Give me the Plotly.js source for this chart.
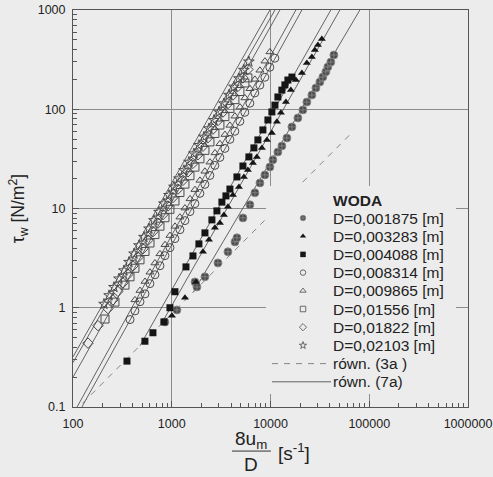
<!DOCTYPE html>
<html>
<head>
<meta charset="utf-8">
<script src="https://cdn.plot.ly/plotly-3.0.1.min.js"></script>
<style>html,body{margin:0;padding:0;background:#ececec;}</style>
</head>
<body>
<div id="chart" style="width:493px;height:477px;"></div>
<script>
// ---- tick labels ----
const xTickVals = [100, 1000, 10000, 100000, 1000000];
const xTickText = ['100', '1000', '10000', '100000', '1000000'];
const yTickVals = [0.1, 1, 10, 100, 1000];
const yTickText = ['0.1', '1', '10', '100', '1000'];

// ---- series names ----
const legendTitle = 'WODA';
const seriesNames = ['D=0,001875 [m]', 'D=0,003283 [m]', 'D=0,004088 [m]', 'D=0,008314 [m]',
  'D=0,009865 [m]', 'D=0,01556 [m]', 'D=0,01822 [m]', 'D=0,02103 [m]'];
const dashName = 'równ. (3a )';
const solidName = 'równ. (7a)';

// ---- measured points (8u/D [1/s], tau_w [N/m2]) ----
const d001875_x = [853, 1129, 1718, 1799, 2168, 2936, 3706, 4365, 4571, 5258, 6185, 6953, 7816, 8775, 9863, 10570, 11880, 13040, 14660, 16480, 18940, 21280, 23350, 26240, 28840, 31620, 33910, 36370, 38100, 40830, 43830];
const d001875_y = [0.72, 0.95, 1.82, 1.62, 2.05, 2.83, 3.66, 4.61, 5.06, 8.04, 10.9, 14.4, 18.1, 21.8, 26.2, 30.9, 37.1, 42.7, 51.4, 66.4, 81.7, 98.4, 118, 139, 164, 188, 211, 238, 267, 299, 352];

const d003283_x = [1005, 1361, 1758, 2070, 2381, 2735, 3076, 3375, 3706, 4161, 4786, 5379, 5902, 6637, 7278, 8185, 9204, 10330, 11610, 12740, 14320, 16070, 18070, 20800, 23350, 26240, 28120, 30200, 33110];
const d003283_y = [0.83, 1.26, 1.82, 3.66, 4.83, 6.38, 7.16, 8.62, 10.4, 13.7, 16.5, 20.8, 24.5, 28.8, 33.1, 40.8, 49.1, 57.7, 75, 92, 118, 156, 197, 232, 292, 336, 395, 444, 511];

const d004088_x = [352, 535, 645, 833, 959, 1077, 1393, 1640, 1884, 2168, 2551, 2866, 3221, 3538, 3882, 4571, 5258, 6043, 6792, 7454, 8375, 9413, 10330, 11090, 11880, 13040, 13990, 15000, 16480];
const d004088_y = [0.29, 0.46, 0.56, 0.72, 1.0, 1.45, 2.58, 3.33, 4.40, 5.68, 7.68, 9.46, 11.6, 13.4, 15.7, 20.8, 26.8, 33.1, 40.8, 49.1, 61.9, 78.0, 94.0, 110, 133, 156, 176, 197, 211];

const d008314_x = [378, 424, 477, 536, 601, 676, 760, 853, 959, 1077, 1211, 1360, 1528, 1716, 1928, 2166, 2432, 2733, 3070, 3449, 3878, 4356, 4898, 5495, 6180, 6934, 7798, 8770, 9840, 11070];
const d008314_y = [0.76, 0.93, 1.15, 1.38, 1.75, 2.15, 2.65, 3.35, 4.03, 4.97, 6.12, 7.55, 9.31, 11.2, 14.2, 17.5, 21.5, 27.2, 32.7, 40.3, 49.7, 60.0, 75.5, 93.1, 115, 146, 175, 210, 265, 327];

const d009865_x = [424, 477, 536, 602, 676, 760, 855, 959, 1079, 1211, 1361, 1531, 1718, 1932, 2168, 2438, 2742, 3076, 3459, 3882, 4365, 4909, 5508, 6194, 6950, 7816, 8790, 9863];
const d009865_y = [1.20, 1.49, 1.84, 2.28, 2.82, 3.49, 4.32, 5.34, 6.61, 8.18, 10.1, 12.5, 15.5, 19.2, 23.7, 29.3, 36.3, 44.9, 55.6, 68.8, 85.1, 105, 130, 161, 200, 247, 305, 378];

const d01556_x = [211, 266, 336, 378, 424, 477, 536, 602, 676, 760, 854, 959, 1078, 1211, 1360, 1529, 1718, 1930, 2168, 2436, 2737, 3074, 3455, 3882, 4362, 4900, 5506, 5905];
const d01556_y = [0.77, 1.14, 1.69, 2.05, 2.50, 3.04, 3.69, 4.49, 5.46, 6.64, 8.07, 9.81, 11.9, 14.5, 17.6, 21.4, 26.1, 31.7, 38.5, 46.9, 57.0, 69.3, 84.3, 102, 125, 151, 184, 207];

const d01822_x = [142, 179, 226, 254, 285, 321, 360, 405, 455, 511, 574, 645, 725, 815, 915, 1028, 1156, 1299, 1459, 1639, 1842, 2070, 2325, 2612, 2935, 3298, 3706, 4164, 4677, 5255, 5906];
const d01822_y = [0.44, 0.66, 0.98, 1.20, 1.46, 1.78, 2.17, 2.64, 3.22, 3.93, 4.79, 5.84, 7.12, 8.68, 10.6, 12.9, 15.7, 19.2, 23.4, 28.5, 34.8, 42.4, 51.7, 63.0, 76.9, 93.7, 114, 139, 170, 207, 252];

const d02103_x = [206, 232, 260, 292, 328, 369, 415, 466, 523, 588, 661, 742, 834, 937, 1053, 1183, 1329, 1494, 1678, 1886, 2118, 2380, 2674, 3005, 3376, 3793, 4262, 4788, 5380, 6045];
const d02103_y = [1.09, 1.33, 1.61, 1.96, 2.37, 2.88, 3.50, 4.24, 5.15, 6.25, 7.59, 9.21, 11.2, 13.6, 16.5, 20.0, 24.2, 29.4, 35.7, 43.4, 52.6, 63.9, 77.5, 94.0, 114, 139, 168, 204, 248, 301];

// ---- eq. (3a) dashed line endpoints ----
const eq3a_x = [125, 67000];
const eq3a_y = [0.109, 58.3];

// ---- eq. (7a) solid lines, one per diameter (start / end) ----
const eq7a_x0 = [100, 100, 100, 110, 123, 477, 780, 1650];
const eq7a_y0 = [0.32, 0.28, 0.20, 0.1, 0.1, 0.415, 0.68, 1.43];
const eq7a_x1 = [9863, 11090, 12450, 18070, 20800, 40830, 50400, 80400];
const eq7a_y1 = [1000, 1000, 1000, 1000, 1000, 1000, 1000, 1000];

// ---------------------------------------------------------------
const FONT = 'Liberation Sans, Arial, sans-serif';
const BG = '#ececec';
const DASH = '6px,6px';

const seriesX = [d001875_x, d003283_x, d004088_x, d008314_x, d009865_x, d01556_x, d01822_x, d02103_x];
const seriesY = [d001875_y, d003283_y, d004088_y, d008314_y, d009865_y, d01556_y, d01822_y, d02103_y];
const styles = [
  {symbol: 'circle-cross', size: 8, color: '#4a4a4a', line: {color: '#8c8c8c', width: 0.8}},
  {symbol: 'triangle-up', size: 7, color: '#151515', line: {color: '#151515', width: 0}},
  {symbol: 'square', size: 7, color: '#151515', line: {color: '#151515', width: 0}},
  {symbol: 'circle-open', size: 8, color: '#4a4a4a', line: {width: 1}},
  {symbol: 'triangle-up-open', size: 7, color: '#4a4a4a', line: {width: 1}},
  {symbol: 'square-open', size: 8, color: '#4a4a4a', line: {width: 1}},
  {symbol: 'diamond-open', size: 8, color: '#4a4a4a', line: {width: 1}},
  {symbol: 'star-open', size: 8, color: '#4a4a4a', line: {width: 1}}
];

const traces = [];

// solid lines (eq. 7a)
const sx = [], sy = [];
for (let i = 0; i < eq7a_x0.length; i++) {
  sx.push(eq7a_x0[i], eq7a_x1[i], null);
  sy.push(eq7a_y0[i], eq7a_y1[i], null);
}
traces.push({type: 'scatter', mode: 'lines', x: sx, y: sy, name: solidName,
  line: {color: '#404040', width: 0.8}, connectgaps: false, hoverinfo: 'skip'});

// dashed line (eq. 3a)
traces.push({type: 'scatter', mode: 'lines', x: eq3a_x, y: eq3a_y, name: dashName,
  line: {color: '#7a7a7a', width: 0.9, dash: DASH}});

// data markers
for (let i = 0; i < seriesX.length; i++) {
  traces.push({type: 'scatter', mode: 'markers', x: seriesX[i], y: seriesY[i], name: seriesNames[i],
    marker: styles[i]});
}

// ---- legend box (drawn in its own overlay subplot, pixel-like units) ----
const LEG = {x0: 266, x1: 456, yTop: 186, yBot: 394, titleY: 200, row0: 218, step: 18.2,
             symX: 303, lineX0: 272, lineX1: 331, textX: 331};
const legendLabels = seriesNames.concat([dashName, solidName]);
traces.push({type: 'scatter', mode: 'lines', xaxis: 'x2', yaxis: 'y2',
  x: [LEG.x0, LEG.x1, LEG.x1, LEG.x0, LEG.x0], y: [LEG.yTop, LEG.yTop, LEG.yBot, LEG.yBot, LEG.yTop],
  fill: 'toself', fillcolor: BG, line: {width: 0}, hoverinfo: 'skip'});
for (let i = 0; i < seriesNames.length; i++) {
  const s = styles[i];
  const ls = s.symbol.indexOf('open') >= 0 ? {color: s.color, width: 0.8} : s.line;
  traces.push({type: 'scatter', mode: 'markers', xaxis: 'x2', yaxis: 'y2',
    x: [LEG.symX], y: [LEG.row0 + i * LEG.step], hoverinfo: 'skip',
    marker: {symbol: s.symbol, size: 5.5, color: s.color, line: ls}});
}
const rDash = LEG.row0 + 8 * LEG.step, rSolid = LEG.row0 + 9 * LEG.step;
traces.push({type: 'scatter', mode: 'lines', xaxis: 'x2', yaxis: 'y2',
  x: [LEG.lineX0, LEG.lineX1], y: [rDash, rDash], line: {color: '#7a7a7a', width: 0.9, dash: DASH}, hoverinfo: 'skip'});
traces.push({type: 'scatter', mode: 'lines', xaxis: 'x2', yaxis: 'y2',
  x: [LEG.lineX0, LEG.lineX1], y: [rSolid, rSolid], line: {color: '#404040', width: 0.8}, hoverinfo: 'skip'});

const annotations = [
  {text: '8u<sub>m</sub>', xref: 'paper', yref: 'paper', x: 0.451, y: -0.083, showarrow: false,
   xanchor: 'center', yanchor: 'middle', font: {family: FONT, size: 19, color: '#222'}},
  {text: 'D', xref: 'paper', yref: 'paper', x: 0.451, y: -0.1436, showarrow: false,
   xanchor: 'center', yanchor: 'middle', font: {family: FONT, size: 19, color: '#222'}},
  {text: '[s<sup>-1</sup>]', xref: 'paper', yref: 'paper', x: 0.514, y: -0.1134, showarrow: false,
   xanchor: 'left', yanchor: 'middle', font: {family: FONT, size: 19, color: '#222'}},
  {text: '<b>' + legendTitle + '</b>', xref: 'x2', yref: 'y2', x: LEG.textX, y: LEG.titleY, showarrow: false,
   xanchor: 'left', yanchor: 'middle', font: {family: FONT, size: 15.5, color: '#222'}}
];
legendLabels.forEach(function (t, i) {
  annotations.push({text: t, xref: 'x2', yref: 'y2', x: LEG.textX, y: LEG.row0 + i * LEG.step,
    showarrow: false, xanchor: 'left', yanchor: 'middle', font: {family: FONT, size: 15.5, color: '#222'}});
});

const minorX = [], minorY = [];
for (let d = 2; d <= 5; d++) for (let k = 2; k <= 9; k++) minorX.push(k * Math.pow(10, d));
for (let d = -1; d <= 2; d++) for (let k = 2; k <= 9; k++) minorY.push(+(k * Math.pow(10, d)).toPrecision(3));

const axisCommon = {
  type: 'log', tickmode: 'array', ticks: 'inside', ticklen: 6, tickcolor: '#555', tickwidth: 1,
  showgrid: true, gridcolor: '#8c8c8c', gridwidth: 1, showline: true, linecolor: '#555', linewidth: 1,
  mirror: true, zeroline: false, tickfont: {family: FONT, size: 12.5, color: '#222'}
};

const PL = 73, PR = 468, PT = 10, PB = 407;
const layout = {
  width: 493, height: 477,
  margin: {l: PL, r: 493 - PR, t: PT, b: 477 - PB, pad: 0},
  paper_bgcolor: BG, plot_bgcolor: BG,
  font: {family: FONT, color: '#222'},
  showlegend: false,
  xaxis: Object.assign({}, axisCommon, {
    range: [2, 6], tickvals: xTickVals, ticktext: xTickText, ticklabelstandoff: 5,
    minor: {tickmode: 'array', tickvals: minorX, ticks: 'inside', ticklen: 4, tickcolor: '#555', showgrid: false}
  }),
  yaxis: Object.assign({}, axisCommon, {
    range: [-1, 3], tickvals: yTickVals, ticktext: yTickText, ticklabelstandoff: 4,
    minor: {tickmode: 'array', tickvals: minorY, ticks: 'inside', ticklen: 4, tickcolor: '#555', showgrid: false},
    title: {text: 'τ<sub>w</sub> [N/m<sup>2</sup>]', font: {family: FONT, size: 17.5, color: '#222'}, standoff: 8}
  }),
  xaxis2: {domain: [(LEG.x0 - PL) / (PR - PL), (LEG.x1 - PL) / (PR - PL)], range: [LEG.x0, LEG.x1],
           visible: false, fixedrange: true, anchor: 'y2'},
  yaxis2: {domain: [(PB - LEG.yBot) / (PB - PT), (PB - LEG.yTop) / (PB - PT)], range: [LEG.yBot, LEG.yTop],
           visible: false, fixedrange: true, anchor: 'x2'},
  shapes: [
    {type: 'line', xref: 'paper', yref: 'paper', x0: 0.4025, x1: 0.501, y0: -0.111, y1: -0.111,
     line: {color: '#333', width: 1}}
  ],
  annotations: annotations
};

Plotly.newPlot('chart', traces, layout, {displayModeBar: false, staticPlot: true});
</script>
</body>
</html>
